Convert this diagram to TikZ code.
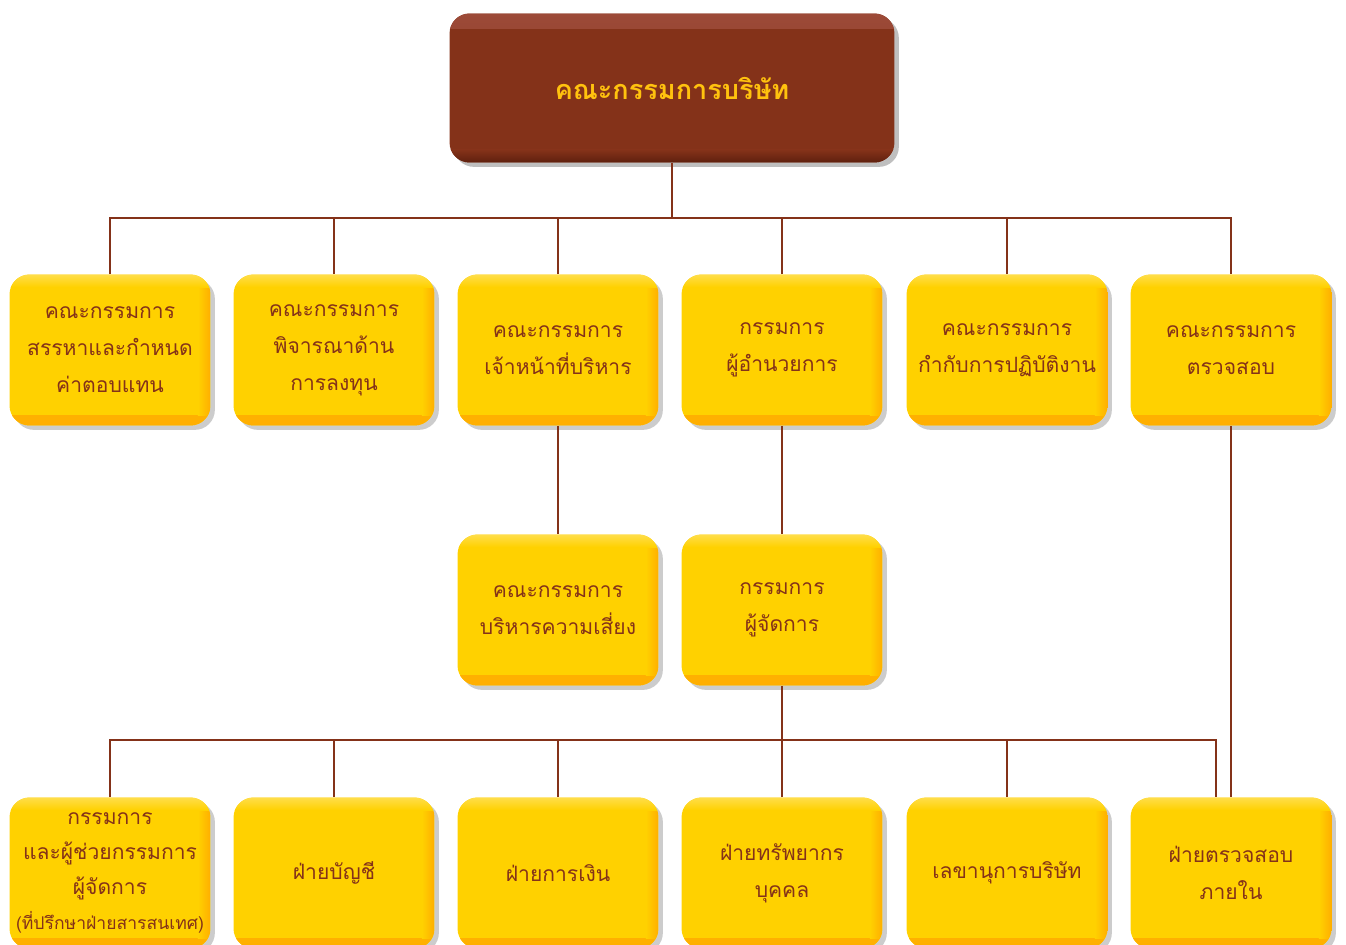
\documentclass[tikz,border=0pt]{standalone}
\usepackage{fontspec}
\newfontfamily\thaifont[Script=Thai]{Loma}
\usetikzlibrary{shadows}

\definecolor{unitbrown}{HTML}{843219}
\definecolor{unityellow}{HTML}{FFD100}
\definecolor{unitorange}{HTML}{FFAE00}
\definecolor{unitlight}{HTML}{FFDD4A}
\definecolor{unitgold}{HTML}{FFC20E}
\definecolor{boardtop}{HTML}{9C4A38}
\definecolor{boarddark}{HTML}{5E200E}

\tikzset{
	unitbox/.style={rounded corners=0.4cm, fill=unityellow, minimum width=4.02cm, minimum height=3.02cm,
		inner sep=1pt, align=center, text=unitbrown, font=\thaifont\fontsize{12}{21}\selectfont,
		drop shadow={shadow xshift=2.5pt, shadow yshift=-2.5pt, opacity=0.2, fill=black},
		path picture={
			\shade[sharp corners, top color=unityellow, bottom color=unitorange]
				([yshift=0.2cm]path picture bounding box.south west) rectangle (path picture bounding box.south east);
			\shade[sharp corners, left color=unityellow, right color=unitorange]
				([xshift=-0.25cm,yshift=-0.25cm]path picture bounding box.north east) rectangle ([yshift=0.2cm]path picture bounding box.south east);
			\shade[sharp corners, top color=unitlight, bottom color=unityellow]
				(path picture bounding box.north west) rectangle ([yshift=-0.25cm]path picture bounding box.north east);
		}},
	boardbox/.style={rounded corners=0.4cm, fill=unitbrown, minimum width=8.9cm, minimum height=2.98cm,
		align=center, text=unitgold, font=\thaifont\bfseries\fontsize{15.4}{20}\selectfont,
		drop shadow={shadow xshift=2.5pt, shadow yshift=-2.5pt, opacity=0.25, fill=black},
		path picture={
			\shade[sharp corners, top color=boardtop, bottom color=unitbrown]
				(path picture bounding box.north west) rectangle ([yshift=-0.3cm]path picture bounding box.north east);
			\shade[sharp corners, top color=unitbrown, bottom color=boarddark]
				([yshift=0.25cm]path picture bounding box.south west) rectangle (path picture bounding box.south east);
		}},
	link/.style={draw=unitbrown, line width=1.2pt}
}

\begin{document}
\begin{tikzpicture}[x=0.02cm, y=-0.02cm]
	\useasboundingbox (0,0) rectangle (1346,944);

	\node[boardbox] (board) at(672,88){คณะกรรมการบริษัท};

	% first row
	\node[unitbox] (pay) at(110,350){คณะกรรมการ\\สรรหาและกำหนด\\ค่าตอบแทน};
	\node[unitbox] (invest) at(334,350){คณะกรรมการ\\พิจารณาด้าน\\การลงทุน};
	\node[unitbox] (exec) at(558,350){คณะกรรมการ\\เจ้าหน้าที่บริหาร};
	\node[unitbox] (director) at(782,350){กรรมการ\\ผู้อำนวยการ};
	\node[unitbox] (govern) at(1007,350){คณะกรรมการ\\กำกับการปฏิบัติงาน};
	\node[unitbox] (audit) at(1231,350){คณะกรรมการ\\ตรวจสอบ};

	% second row
	\node[unitbox] (risk) at(558,610){คณะกรรมการ\\บริหารความเสี่ยง};
	\node[unitbox] (manager) at(782,610){กรรมการ\\ผู้จัดการ};

	% third row
	\node[unitbox, font=\thaifont\fontsize{12}{20}\selectfont] (assist) at(110,873){กรรมการ\\และผู้ช่วยกรรมการ\\ผู้จัดการ\\{\fontsize{10}{20}\selectfont(ที่ปรึกษาฝ่ายสารสนเทศ)}};
	\node[unitbox] (account) at(334,873){ฝ่ายบัญชี};
	\node[unitbox] (finance) at(558,873){ฝ่ายการเงิน};
	\node[unitbox] (hr) at(782,873){ฝ่ายทรัพยากร\\บุคคล};
	\node[unitbox] (secretary) at(1007,873){เลขานุการบริษัท};
	\node[unitbox] (inaudit) at(1231,873){ฝ่ายตรวจสอบ\\ภายใน};

	\coordinate (topbus) at(0,218);
	\coordinate (lowbus) at(0,740);

	\draw[link] (board.south) -- (board.south |- topbus);
	\draw[link] (pay.north) |- (audit.north |- topbus) -- (audit.north);
	\foreach \n in {invest,exec,director,govern}
		\draw[link] (\n.north) -- (\n.north |- topbus);

	\draw[link] (exec.south) -- (risk.north);
	\draw[link] (director.south) -- (manager.north);
	\draw[link] (audit.south) -- (inaudit.north);

	\draw[link] (manager.south) -- (manager.south |- lowbus);
	\draw[link] (assist.north) |- ([xshift=-0.3cm]inaudit.north |- lowbus) -- ([xshift=-0.3cm]inaudit.north);
	\foreach \n in {account,finance,hr,secretary}
		\draw[link] (\n.north) -- (\n.north |- lowbus);
\end{tikzpicture}
\end{document}
